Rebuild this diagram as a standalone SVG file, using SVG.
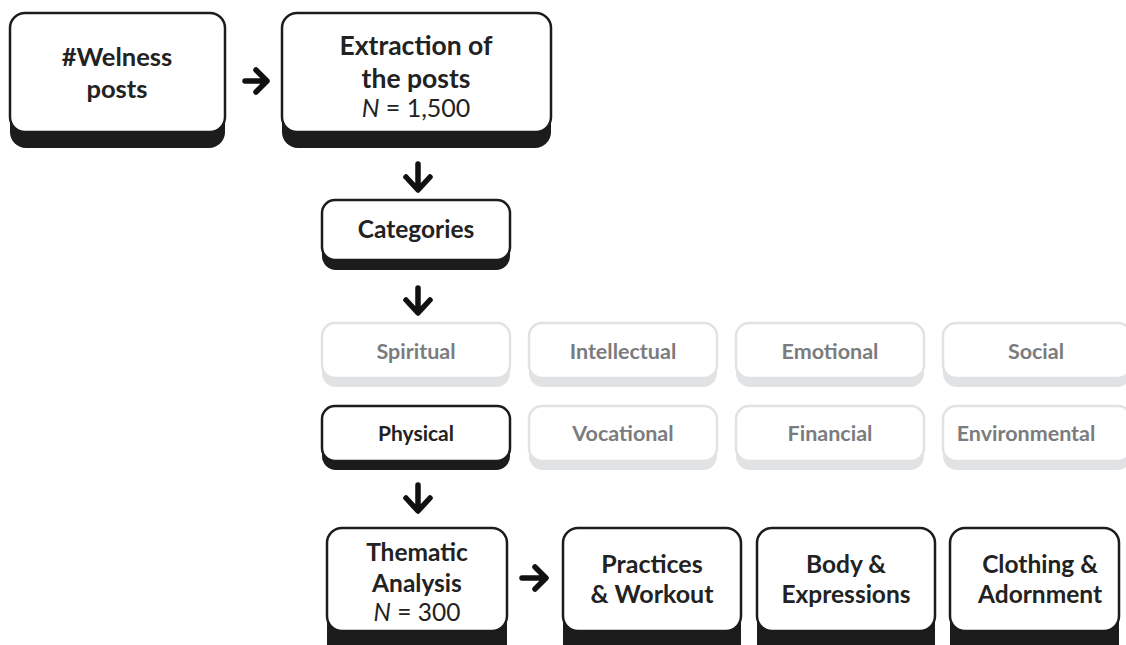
<svg xmlns="http://www.w3.org/2000/svg" width="1126" height="645" viewBox="0 0 1126 645">
<style>
.sh{fill:#1c1c1c}
.fc{fill:#fff;stroke:#1c1c1c;stroke-width:2.5}
.shf{fill:#e1e2e4}
.fcf{fill:#fff;stroke:#e1e2e4;stroke-width:2.5}
.t{font-family:Lato,"Open Sans",sans-serif;font-weight:700;font-size:24.5px;fill:#222;text-anchor:middle}
.c{font-family:Lato,"Open Sans",sans-serif;font-weight:700;font-size:21px;fill:#222;text-anchor:middle}
.cf{font-family:Lato,"Open Sans",sans-serif;font-weight:700;font-size:21.5px;fill:#7b7c7e;text-anchor:middle}
.n{font-family:Lato,"Open Sans",sans-serif;font-weight:400;font-size:24.5px;fill:#222;text-anchor:middle}
.ar{fill:none;stroke:#111;stroke-width:5.5;stroke-linecap:round;stroke-linejoin:round}
</style>
<rect width="1126" height="645" fill="#fff"/>
<g id="welness">
<rect class="sh" x="10" y="13" width="215" height="135" rx="16"/>
<rect class="fc" x="10" y="13" width="215" height="119" rx="15"/>
<text class="t" x="117" y="66" style="font-size:25.5px">#Welness</text>
<text class="t" x="117" y="98" style="font-size:25.5px">posts</text>
</g>
<g id="extraction">
<rect class="sh" x="282" y="13" width="269" height="135" rx="16"/>
<rect class="fc" x="282" y="13" width="269" height="119" rx="15"/>
<text class="t" x="416" y="55" style="font-size:26.5px">Extraction of</text>
<text class="t" x="416" y="88" style="font-size:26.5px">the posts</text>
<text class="n" x="416" y="117" style="font-size:25px"><tspan font-style="italic">N</tspan> = 1,500</text>
</g>
<g id="categories">
<rect class="sh" x="322" y="200" width="188" height="70" rx="14"/>
<rect class="fc" x="322" y="200" width="188" height="60" rx="13"/>
<text class="t" x="416" y="238" style="font-size:24.5px">Categories</text>
</g>
<g id="spiritual">
<rect class="shf" x="322" y="323" width="188" height="64" rx="14"/>
<rect class="fcf" x="322" y="323" width="188" height="55" rx="13"/>
<text class="cf" x="416" y="359">Spiritual</text>
</g>
<g id="intellectual">
<rect class="shf" x="529" y="323" width="188" height="64" rx="14"/>
<rect class="fcf" x="529" y="323" width="188" height="55" rx="13"/>
<text class="cf" x="623" y="359">Intellectual</text>
</g>
<g id="emotional">
<rect class="shf" x="736" y="323" width="188" height="64" rx="14"/>
<rect class="fcf" x="736" y="323" width="188" height="55" rx="13"/>
<text class="cf" x="830" y="359">Emotional</text>
</g>
<g id="social">
<rect class="shf" x="943" y="323" width="188" height="64" rx="14"/>
<rect class="fcf" x="943" y="323" width="188" height="55" rx="13"/>
<text class="cf" x="1036" y="359">Social</text>
</g>
<g id="physical">
<rect class="sh" x="322" y="406" width="188" height="64" rx="14"/>
<rect class="fc" x="322" y="406" width="188" height="55" rx="13"/>
<text class="c" x="416" y="441">Physical</text>
</g>
<g id="vocational">
<rect class="shf" x="529" y="406" width="188" height="64" rx="14"/>
<rect class="fcf" x="529" y="406" width="188" height="55" rx="13"/>
<text class="cf" x="623" y="441">Vocational</text>
</g>
<g id="financial">
<rect class="shf" x="736" y="406" width="188" height="64" rx="14"/>
<rect class="fcf" x="736" y="406" width="188" height="55" rx="13"/>
<text class="cf" x="830" y="441">Financial</text>
</g>
<g id="environmental">
<rect class="shf" x="943" y="406" width="188" height="64" rx="14"/>
<rect class="fcf" x="943" y="406" width="188" height="55" rx="13"/>
<text class="cf" x="1026" y="441">Environmental</text>
</g>
<g id="thematic">
<rect class="sh" x="327" y="528" width="180" height="135" rx="16"/>
<rect class="fc" x="327" y="528" width="180" height="103" rx="15"/>
<text class="t" x="417" y="561">Thematic</text>
<text class="t" x="417" y="592">Analysis</text>
<text class="n" x="417" y="621"><tspan font-style="italic">N</tspan> = 300</text>
</g>
<g id="practices">
<rect class="sh" x="563" y="528" width="178" height="135" rx="16"/>
<rect class="fc" x="563" y="528" width="178" height="103" rx="15"/>
<text class="t" x="652" y="573" style="font-size:25px">Practices</text>
<text class="t" x="652" y="603" style="font-size:25px">&amp; Workout</text>
</g>
<g id="body">
<rect class="sh" x="757" y="528" width="178" height="135" rx="16"/>
<rect class="fc" x="757" y="528" width="178" height="103" rx="15"/>
<text class="t" x="846" y="573">Body &amp;</text>
<text class="t" x="846" y="603">Expressions</text>
</g>
<g id="clothing">
<rect class="sh" x="950" y="528" width="169" height="135" rx="16"/>
<rect class="fc" x="950" y="528" width="169" height="103" rx="15"/>
<text class="t" x="1040" y="573">Clothing &amp;</text>
<text class="t" x="1040" y="603">Adornment</text>
</g>
<g id="connectors">
<path class="ar" d="M245 81 H266 M256 70 L267 81 L256 92"/>
<path class="ar" d="M418 164 V189 M406 177 L418 190 L430 177"/>
<path class="ar" d="M418 288 V312 M406 300 L418 313 L430 300"/>
<path class="ar" d="M418 485 V510 M406 498 L418 511 L430 498"/>
<path class="ar" d="M522 578 H545 M535 567 L546 578 L535 589"/>
</g>
</svg>
